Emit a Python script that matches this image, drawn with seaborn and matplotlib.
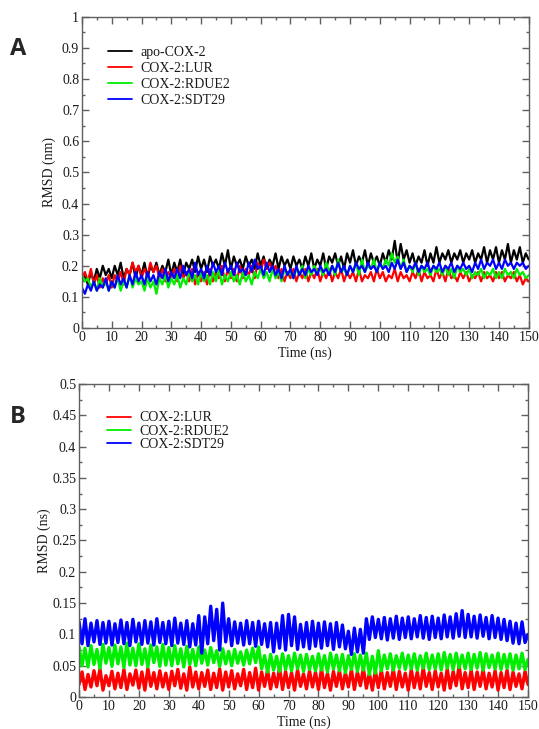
import numpy as np
import pandas as pd
import matplotlib
matplotlib.use("Agg")
import matplotlib.pyplot as plt
from matplotlib.ticker import MultipleLocator, FuncFormatter
import seaborn as sns

# ---------------- data (1 ns steps) ----------------
time_ns = list(range(0, 151))

a_apo = [0.15,0.17,0.14,0.18,0.15,0.19,0.16,0.20,0.17,0.19,
         0.16,0.20,0.17,0.21,0.16,0.19,0.17,0.21,0.16,0.20,
         0.17,0.21,0.16,0.20,0.18,0.21,0.17,0.20,0.18,0.22,
         0.17,0.21,0.18,0.22,0.17,0.21,0.19,0.22,0.18,0.23,
         0.19,0.22,0.18,0.23,0.20,0.22,0.19,0.24,0.20,0.25,
         0.19,0.23,0.20,0.22,0.19,0.23,0.20,0.22,0.19,0.24,
         0.20,0.23,0.19,0.22,0.20,0.24,0.19,0.23,0.20,0.22,
         0.19,0.23,0.20,0.22,0.19,0.23,0.20,0.24,0.19,0.22,
         0.20,0.24,0.19,0.23,0.21,0.24,0.20,0.23,0.19,0.24,
         0.21,0.25,0.20,0.23,0.21,0.25,0.20,0.24,0.21,0.23,
         0.20,0.24,0.21,0.25,0.22,0.28,0.21,0.27,0.22,0.25,
         0.21,0.24,0.20,0.23,0.21,0.25,0.20,0.24,0.21,0.26,
         0.21,0.24,0.22,0.25,0.21,0.24,0.22,0.25,0.21,0.24,
         0.22,0.25,0.21,0.24,0.22,0.26,0.21,0.25,0.22,0.26,
         0.21,0.25,0.22,0.27,0.21,0.25,0.22,0.26,0.21,0.24,
         0.22]

a_lur = [0.16,0.18,0.15,0.19,0.14,0.17,0.13,0.16,0.14,0.17,
         0.13,0.17,0.15,0.18,0.14,0.19,0.17,0.21,0.18,0.20,
         0.16,0.19,0.17,0.21,0.18,0.20,0.16,0.19,0.15,0.18,
         0.16,0.19,0.15,0.20,0.16,0.18,0.15,0.19,0.14,0.18,
         0.15,0.18,0.14,0.19,0.15,0.18,0.16,0.20,0.15,0.19,
         0.16,0.19,0.15,0.20,0.16,0.19,0.17,0.20,0.16,0.21,
         0.18,0.22,0.19,0.21,0.18,0.20,0.16,0.19,0.15,0.18,
         0.16,0.19,0.15,0.18,0.16,0.19,0.15,0.18,0.16,0.19,
         0.15,0.18,0.16,0.19,0.15,0.18,0.16,0.19,0.15,0.18,
         0.16,0.18,0.15,0.19,0.15,0.17,0.16,0.18,0.15,0.19,
         0.16,0.18,0.15,0.17,0.16,0.19,0.15,0.18,0.16,0.17,
         0.15,0.18,0.16,0.19,0.15,0.18,0.16,0.17,0.15,0.19,
         0.16,0.18,0.15,0.19,0.16,0.17,0.15,0.18,0.16,0.18,
         0.15,0.17,0.16,0.18,0.15,0.18,0.16,0.17,0.15,0.18,
         0.16,0.18,0.15,0.17,0.16,0.18,0.15,0.17,0.14,0.16,
         0.15]

a_rdue2 = [0.17,0.15,0.16,0.13,0.15,0.12,0.16,0.13,0.15,0.12,
           0.15,0.13,0.16,0.12,0.15,0.13,0.17,0.13,0.16,0.14,
           0.15,0.12,0.16,0.13,0.15,0.11,0.16,0.14,0.17,0.13,
           0.16,0.14,0.17,0.13,0.16,0.14,0.18,0.15,0.17,0.14,
           0.18,0.15,0.17,0.14,0.18,0.15,0.19,0.14,0.17,0.15,
           0.18,0.15,0.17,0.14,0.18,0.15,0.17,0.14,0.18,0.16,
           0.19,0.16,0.18,0.15,0.19,0.16,0.18,0.15,0.19,0.17,
           0.18,0.16,0.19,0.17,0.20,0.16,0.19,0.17,0.20,0.18,
           0.19,0.17,0.21,0.18,0.20,0.17,0.22,0.18,0.19,0.17,
           0.20,0.18,0.21,0.17,0.22,0.18,0.20,0.19,0.22,0.18,
           0.21,0.19,0.22,0.20,0.24,0.21,0.23,0.19,0.22,0.18,
           0.20,0.18,0.21,0.17,0.20,0.18,0.19,0.17,0.20,0.18,
           0.19,0.17,0.20,0.17,0.19,0.16,0.20,0.18,0.19,0.17,
           0.19,0.16,0.18,0.17,0.19,0.16,0.18,0.17,0.19,0.16,
           0.18,0.16,0.19,0.17,0.18,0.16,0.19,0.17,0.18,0.16,
           0.17]

a_sdt29 = [0.13,0.11,0.14,0.12,0.15,0.12,0.14,0.13,0.16,0.12,
           0.15,0.13,0.17,0.14,0.16,0.13,0.17,0.14,0.18,0.15,
           0.17,0.14,0.18,0.15,0.17,0.14,0.18,0.16,0.19,0.15,
           0.18,0.16,0.19,0.16,0.20,0.17,0.19,0.16,0.21,0.17,
           0.19,0.16,0.20,0.17,0.21,0.18,0.20,0.17,0.21,0.18,
           0.20,0.17,0.21,0.18,0.19,0.17,0.21,0.18,0.22,0.19,
           0.20,0.17,0.21,0.18,0.20,0.17,0.19,0.16,0.20,0.17,
           0.19,0.16,0.20,0.17,0.19,0.17,0.20,0.18,0.19,0.17,
           0.20,0.18,0.19,0.17,0.20,0.18,0.21,0.18,0.20,0.17,
           0.20,0.18,0.21,0.19,0.20,0.18,0.21,0.19,0.20,0.18,
           0.21,0.19,0.20,0.18,0.21,0.19,0.22,0.19,0.21,0.18,
           0.20,0.19,0.21,0.18,0.20,0.19,0.21,0.18,0.20,0.19,
           0.21,0.18,0.20,0.19,0.21,0.18,0.20,0.19,0.21,0.19,
           0.20,0.18,0.21,0.19,0.22,0.19,0.21,0.20,0.22,0.19,
           0.21,0.19,0.22,0.20,0.21,0.19,0.21,0.20,0.21,0.19,
           0.20]

b_lur = [0.020,0.040,0.012,0.036,0.016,0.042,0.018,0.045,0.011,0.034,
         0.018,0.041,0.013,0.038,0.015,0.044,0.012,0.037,0.019,0.043,
         0.014,0.040,0.011,0.046,0.017,0.039,0.013,0.042,0.016,0.038,
         0.012,0.041,0.018,0.044,0.014,0.037,0.011,0.048,0.016,0.040,
         0.013,0.039,0.017,0.043,0.012,0.038,0.015,0.045,0.011,0.040,
         0.016,0.042,0.013,0.037,0.018,0.044,0.012,0.039,0.015,0.046,
         0.011,0.040,0.017,0.043,0.013,0.038,0.016,0.047,0.012,0.041,
         0.015,0.039,0.011,0.044,0.017,0.037,0.013,0.042,0.016,0.040,
         0.012,0.045,0.015,0.038,0.011,0.041,0.017,0.043,0.013,0.039,
         0.016,0.044,0.012,0.040,0.018,0.046,0.014,0.038,0.011,0.042,
         0.015,0.043,0.013,0.039,0.017,0.045,0.012,0.041,0.016,0.038,
         0.011,0.044,0.015,0.040,0.013,0.047,0.017,0.039,0.012,0.042,
         0.016,0.038,0.011,0.045,0.014,0.041,0.018,0.050,0.013,0.039,
         0.015,0.043,0.012,0.040,0.017,0.044,0.013,0.038,0.016,0.042,
         0.011,0.039,0.015,0.043,0.012,0.040,0.017,0.037,0.013,0.041,
         0.020]

b_rdue2 = [0.080,0.050,0.078,0.048,0.082,0.052,0.076,0.046,0.084,0.054,
           0.079,0.049,0.083,0.053,0.080,0.047,0.086,0.051,0.078,0.050,
           0.085,0.052,0.077,0.048,0.083,0.055,0.080,0.049,0.084,0.051,
           0.079,0.050,0.082,0.053,0.077,0.048,0.081,0.052,0.076,0.050,
           0.080,0.054,0.075,0.051,0.079,0.055,0.074,0.049,0.077,0.053,
           0.073,0.050,0.076,0.054,0.072,0.051,0.075,0.053,0.078,0.055,
           0.080,0.045,0.066,0.040,0.068,0.043,0.065,0.041,0.069,0.044,
           0.066,0.042,0.070,0.045,0.067,0.041,0.068,0.044,0.065,0.042,
           0.069,0.043,0.066,0.040,0.070,0.045,0.067,0.042,0.068,0.039,
           0.066,0.044,0.069,0.041,0.067,0.043,0.070,0.036,0.065,0.038,
           0.074,0.042,0.067,0.045,0.069,0.043,0.066,0.046,0.070,0.044,
           0.067,0.045,0.069,0.043,0.066,0.046,0.070,0.044,0.067,0.045,
           0.069,0.043,0.071,0.046,0.068,0.044,0.070,0.047,0.067,0.045,
           0.070,0.044,0.068,0.046,0.071,0.043,0.069,0.047,0.067,0.045,
           0.070,0.044,0.068,0.046,0.069,0.043,0.067,0.045,0.070,0.044,
           0.060]

b_sdt29 = [0.120,0.085,0.125,0.082,0.118,0.088,0.122,0.084,0.119,0.086,
           0.121,0.083,0.117,0.087,0.123,0.085,0.119,0.082,0.124,0.088,
           0.118,0.084,0.122,0.086,0.120,0.083,0.125,0.087,0.119,0.085,
           0.121,0.082,0.126,0.086,0.118,0.084,0.122,0.080,0.117,0.083,
           0.130,0.070,0.128,0.085,0.145,0.090,0.140,0.075,0.150,0.088,
           0.125,0.082,0.120,0.086,0.118,0.083,0.122,0.085,0.119,0.081,
           0.121,0.084,0.117,0.080,0.119,0.072,0.118,0.078,0.130,0.075,
           0.132,0.082,0.128,0.076,0.116,0.080,0.119,0.077,0.121,0.081,
           0.118,0.078,0.120,0.082,0.117,0.076,0.119,0.080,0.115,0.077,
           0.105,0.068,0.110,0.072,0.108,0.070,0.125,0.092,0.128,0.095,
           0.124,0.093,0.127,0.091,0.125,0.094,0.129,0.092,0.126,0.095,
           0.128,0.093,0.125,0.096,0.130,0.094,0.127,0.092,0.129,0.095,
           0.126,0.093,0.131,0.096,0.128,0.094,0.133,0.097,0.138,0.095,
           0.132,0.096,0.129,0.094,0.131,0.097,0.127,0.093,0.130,0.095,
           0.126,0.092,0.124,0.090,0.121,0.086,0.118,0.085,0.120,0.087,
           0.100]

labels_a = ["apo-COX-2", "COX-2:LUR", "COX-2:RDUE2", "COX-2:SDT29"]
labels_b = ["COX-2:LUR", "COX-2:RDUE2", "COX-2:SDT29"]
colors_a = ["#000000", "#ff0000", "#00ee00", "#0000ff"]
colors_b = ["#ff0000", "#00ee00", "#0000ff"]

# ---------------- styling ----------------
sns.set_theme(style="ticks")
plt.rcParams["font.family"] = ["Liberation Serif", "DejaVu Serif"]

fig = plt.figure(figsize=(5.39, 7.29), dpi=100)
axA = fig.add_axes([0.152, 0.550, 0.829, 0.427])
axB = fig.add_axes([0.1466, 0.0439, 0.833, 0.4294])

def draw(ax, series, labels, colors, lw):
    frames = []
    for s, lab in zip(series, labels):
        frames.append(pd.DataFrame({"Time": time_ns, "RMSD": s, "system": lab}))
    df = pd.concat(frames, ignore_index=True)
    sns.lineplot(data=df, x="Time", y="RMSD", hue="system", hue_order=labels,
                 palette=colors, estimator=None, linewidth=lw, ax=ax,
                 legend=True)

draw(axA, [a_apo, a_lur, a_rdue2, a_sdt29], labels_a, colors_a, 1.6)
draw(axB, [b_lur, b_rdue2, b_sdt29], labels_b, colors_b, 2.4)

fmt = FuncFormatter(lambda v, p: "%g" % round(v, 4))
spine_col = "#606060"
txt_col = "#1a1a1a"
settings = [
    (axA, 1.0, 0.1, "RMSD (nm)", 4, (0.045, 0.924), 0.21),
    (axB, 0.5, 0.05, "RMSD (ns)", 1, (0.05, 0.93), 0.03),
]
for ax, ymax, ymaj, ylab, ypad, anchor, lspace in settings:
    ax.set_xlim(0, 150)
    ax.set_ylim(0, ymax)
    ax.xaxis.set_major_locator(MultipleLocator(10))
    ax.xaxis.set_minor_locator(MultipleLocator(5))
    ax.yaxis.set_major_locator(MultipleLocator(ymaj))
    ax.yaxis.set_minor_locator(MultipleLocator(ymaj / 2))
    ax.yaxis.set_major_formatter(fmt)
    ax.xaxis.set_major_formatter(fmt)
    ax.tick_params(which="both", direction="in", top=True, right=True,
                   color=spine_col, width=1.0, labelsize=10, pad=2, labelcolor=txt_col)
    ax.tick_params(which="major", length=5)
    ax.tick_params(which="minor", length=2.5)
    for sp in ax.spines.values():
        sp.set_visible(True)
        sp.set_color(spine_col)
        sp.set_linewidth(1.0)
    ax.set_xlabel("Time (ns)", fontsize=10, labelpad=2, color=txt_col)
    ax.set_ylabel(ylab, fontsize=10, labelpad=ypad, color=txt_col)
    leg = ax.legend(loc="upper left", frameon=False, fontsize=10,
                    handlelength=1.75, handletextpad=0.6, labelspacing=lspace,
                    borderaxespad=0.0, bbox_to_anchor=anchor)
    for line in leg.get_lines():
        line.set_linewidth(1.3)
    for t in leg.get_texts():
        t.set_color(txt_col)

fig.text(0.018, 0.925, "A", fontsize=17, fontweight="bold",
         family=["Open Sans", "DejaVu Sans"], ha="left", va="baseline")
fig.text(0.018, 0.420, "B", fontsize=17, fontweight="bold",
         family=["Open Sans", "DejaVu Sans"], ha="left", va="baseline")

fig.savefig("out.png", dpi=100)
